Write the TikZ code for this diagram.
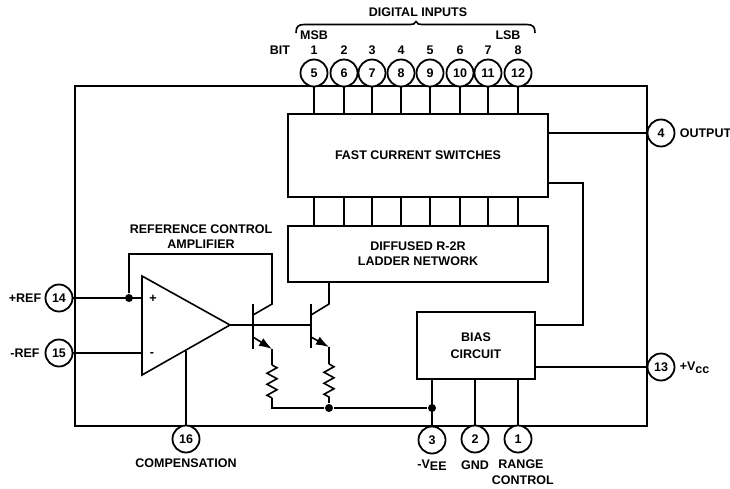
\documentclass[tikz,border=0pt]{standalone}
\usepackage{fontspec}
\setmainfont{Liberation Sans}
\usepackage{xcolor}
\usetikzlibrary{arrows.meta,calc,decorations.pathmorphing}
\newcommand{\lowtxt}[1]{\raisebox{-2.5pt}{#1}}

\begin{document}
\begin{tikzpicture}[x=1pt,y=-1pt,>=Latex,line width=1.6pt,
  lbl/.style={font=\fontsize{12.5}{14}\selectfont\bfseries,align=center,inner sep=0pt},
  blk/.style={draw,outer sep=0pt,inner sep=0pt,font=\fontsize{12.5}{15}\selectfont\bfseries,align=center},
  pin/.style={draw,circle,fill=white,minimum size=27pt,inner sep=0pt,line width=1.8pt,
              font=\fontsize{12.5}{12}\selectfont\bfseries},
  dotnode/.style={circle,fill=black,minimum size=8pt,inner sep=0pt},
  res/.style={decorate,decoration={zigzag,segment length=11,amplitude=5}}]
\useasboundingbox (0,0) rectangle (730,488);
% package outline
\node[draw,outer sep=0pt,minimum width=572,minimum height=340] (chip) at (361,256) {};
% blocks
\node[blk,minimum width=260,minimum height=83] (sw) at (418,155.5) {FAST CURRENT SWITCHES};
\node[blk,minimum width=260,minimum height=56] (lad) at (418,254) {DIFFUSED R-2R\\LADDER NETWORK};
\node[blk,minimum width=118,minimum height=67] (bias) at (476,345.5) {BIAS\\[2pt]CIRCUIT};
% digital input pins
\foreach \pn/\px/\bn in {5/314/1,6/344/2,7/372/3,8/401/4,9/430/5,10/460/6,11/488/7,12/518/8} {
  \node[pin] (p\pn) at (\px,73) {\pn};
  \node[lbl] (b\bn) at (\px,50) {\bn};
  \draw (p\pn) -- (p\pn |- sw.north);
  \draw (p\pn |- sw.south) -- (p\pn |- lad.north);
}
\node[lbl] (bit) at (280,50) {BIT};
\node[lbl] (msb) at (314,35.5) {MSB};
\node[lbl] (lsb) at (508,35.5) {LSB};
\node[lbl] (dig) at (418,12) {DIGITAL INPUTS};
\coordinate (brl) at (296,33);
\coordinate (brr) at (535,33);
\coordinate (brtip) at (416,21.5);
% brace over the inputs
\draw (brl) .. controls (296,27) and (298,24.5) .. (304,24.5) -- (410,24.5)
  .. controls (413,24.5) and (415,24) .. (brtip)
  .. controls (417,24) and (419,24.5) .. (422,24.5) -- (527,24.5)
  .. controls (533,24.5) and (535,27) .. (brr);
% other pins
\node[pin] (p4) at (661,133) {4};
\node[pin] (p13) at (661,367) {13};
\node[pin] (p14) at (59,298) {14};
\node[pin] (p15) at (59,353) {15};
\node[pin] (p16) at (186,439) {16};
\node[pin] (p3) at (432,440) {3};
\node[pin] (p2) at (475,439) {2};
\node[pin] (p1) at (518,439) {1};
\node[lbl,anchor=west] (outl) at (679,133) {OUTPUT};
\node[lbl,anchor=west] (vcc) at (679,368) {+V\lowtxt{cc}};
\node[lbl] (refp) at (25,298) {+REF};
\node[lbl] (refm) at (25,353) {-REF};
\node[lbl] (comp) at (186,463) {COMPENSATION};
\node[lbl] (vee) at (432,465) {-V\lowtxt{EE}};
\node[lbl] (gnd) at (475,465) {GND};
\node[lbl,anchor=north] (rng) at (521,459) {RANGE\\[2pt]\ CONTROL};
\node[lbl] (rca) at (201,236.5) {REFERENCE CONTROL\\[1pt]AMPLIFIER};
% amplifier
\coordinate (oa1) at (142,276);
\coordinate (oa2) at (142,375);
\coordinate (oaout) at (230,325);
\draw (oa1) -- (oa2) -- (oaout) -- cycle;
\node[lbl] (plus) at (153,299) {+};
\node[lbl] (minus) at (152,354) {-};
\node[dotnode] (d1) at (129,298) {};
\draw (p14) -- (p14 -| oa1);
\draw (p15) -- (p15 -| oa2);
\draw (d1) -- (129,254) -- (272,254) -- (272,304) coordinate (c1) -- (253,315) coordinate (cb1);
\coordinate (f16) at (186,351);
\draw (f16) -- (p16);
% transistors
\coordinate (q1t) at (253,304);
\coordinate (q1b) at (253,349);
\coordinate (q2t) at (311,304);
\coordinate (q2b) at (311,348);
\draw (q1t) -- (q1b);
\draw (q2t) -- (q2b);
\coordinate (c2) at (329,304);
\draw (oaout) -- (q2t |- oaout);
\draw (329,282) -- (c2) -- (311,315);
\coordinate (e1) at (272,349);
\coordinate (e2) at (329,347);
\draw[-{Latex[length=13pt,width=9pt]}] (253,337) -- (e1);
\draw[-{Latex[length=13pt,width=9pt]}] (311,337) -- (e2);
\coordinate (r1t) at (272,365);
\coordinate (r1b) at (272,398);
\coordinate (r2t) at (329,364);
\coordinate (r2b) at (329,398);
\draw (e1) -- (r1t);
\draw (e2) -- (r2t);
\draw[res] (r1t) -- (r1b);
\draw[res] (r2t) -- (r2b);
\node[dotnode] (d2) at (329,408) {};
\node[dotnode] (d3) at (432,408) {};
\draw (r1b) -- (272,408) -- (d2);
\draw (r2b) -- (d2);
\draw (d2) -- (d3);
% bias and output wiring
\draw (bias.south -| p3) -- (p3);
\draw (bias.south -| p2) -- (p2);
\draw (bias.south -| p1) -- (p1);
\draw (sw.east |- p4) -- (p4);
\draw (bias.east |- p13) -- (p13);
\draw (548,183) -- (583,183) -- (583,325) -- (535,325);
\end{tikzpicture}
\end{document}
